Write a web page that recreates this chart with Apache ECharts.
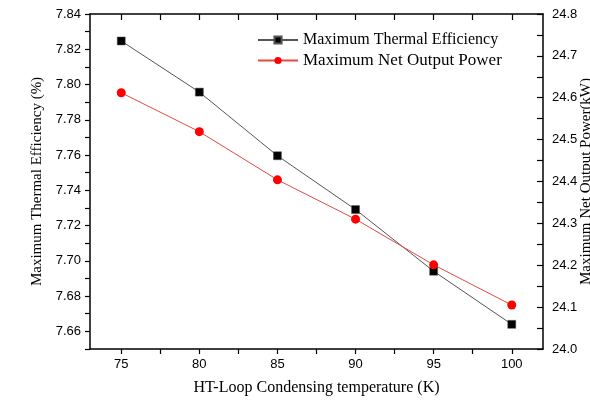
<!DOCTYPE html>
<html>
<head>
<meta charset="utf-8">
<script src="https://cdn.jsdelivr.net/npm/echarts@6/dist/echarts.min.js"></script>
<style>
    html, body { margin: 0; padding: 0; background: #fff; }
    #main { width: 590px; height: 401px; }
</style>
</head>
<body>
<div id="main"></div>
<script>
    // data
    var temps = [75, 80, 85, 90, 95, 100];
    var efficiency = [7.8247, 7.7957, 7.7596, 7.7291, 7.6941, 7.6640];
    var netPower = [24.612, 24.519, 24.404, 24.310, 24.201, 24.105];

    // tick positions / labels
    var xTicks = [75, 77.5, 80, 82.5, 85, 87.5, 90, 92.5, 95, 97.5, 100];
    var xLabels = [75, 80, 85, 90, 95, 100];
    var effTicks = [7.65, 7.66, 7.67, 7.68, 7.69, 7.70, 7.71, 7.72, 7.73, 7.74, 7.75, 7.76, 7.77, 7.78, 7.79, 7.80, 7.81, 7.82, 7.83, 7.84];
    var effLabels = [7.66, 7.68, 7.70, 7.72, 7.74, 7.76, 7.78, 7.80, 7.82, 7.84];
    var powTicks = [24.0, 24.05, 24.1, 24.15, 24.2, 24.25, 24.3, 24.35, 24.4, 24.45, 24.5, 24.55, 24.6, 24.65, 24.7, 24.75, 24.8];
    var powLabels = [24.0, 24.1, 24.2, 24.3, 24.4, 24.5, 24.6, 24.7, 24.8];

    function pairs(xs, ys) {
        var out = [];
        for (var i = 0; i < xs.length; i++) out.push([xs[i], ys[i]]);
        return out;
    }

    var serif = '"Liberation Serif", "Times New Roman", serif';
    var sans = '"Liberation Sans", Arial, sans-serif';
    var axisLine = { show: true, lineStyle: { color: '#000', width: 1.5 } };

    var myChart = echarts.init(document.getElementById('main'));
    var option = {
        animation: false,
        backgroundColor: '#fff',
        grid: {
            left: 90,
            right: 47,
            top: 14,
            bottom: 52,
            containLabel: false,
            outerBoundsMode: 'none'
        },
        legend: {
            orient: 'vertical',
            left: 252,
            top: 27,
            itemWidth: 40,
            itemHeight: 9,
            itemGap: 4,
            data: [
                { name: 'Maximum Thermal Efficiency', textStyle: { fontSize: 16 } },
                { name: 'Maximum Net Output Power', textStyle: { fontSize: 17 } }
            ],
            textStyle: { fontFamily: serif, color: '#000' }
        },
        xAxis: [
            {
                type: 'value',
                position: 'bottom',
                min: 73,
                max: 102,
                name: 'HT-Loop Condensing temperature (K)',
                nameLocation: 'middle',
                nameGap: 31,
                nameTextStyle: { fontFamily: serif, fontSize: 16, color: '#000' },
                axisLine: axisLine,
                axisTick: { show: true, inside: false, length: 5, customValues: xTicks, lineStyle: { color: '#000', width: 1.2 } },
                axisLabel: { customValues: xLabels, fontFamily: sans, fontSize: 13, color: '#000', margin: 9 },
                splitLine: { show: false }
            },
            {
                type: 'value',
                position: 'top',
                min: 73,
                max: 102,
                axisLine: axisLine,
                axisTick: { show: true, inside: true, length: 6, customValues: xTicks, lineStyle: { color: '#000', width: 1.2 } },
                axisLabel: { show: false },
                splitLine: { show: false }
            }
        ],
        yAxis: [
            {
                type: 'value',
                position: 'left',
                min: 7.65,
                max: 7.84,
                name: 'Maximum Thermal Efficiency (%)',
                nameLocation: 'middle',
                nameRotate: 90,
                nameGap: 45,
                nameMoveOverlap: false,
                nameTextStyle: { fontFamily: serif, fontSize: 15, color: '#000' },
                axisLine: axisLine,
                axisTick: { show: true, inside: false, length: 5, customValues: effTicks, lineStyle: { color: '#000', width: 1.2 } },
                axisLabel: {
                    customValues: effLabels,
                    fontFamily: sans, fontSize: 13, color: '#000', margin: 9,
                    formatter: function (v) { return v.toFixed(2); }
                },
                splitLine: { show: false }
            },
            {
                type: 'value',
                position: 'right',
                min: 24.0,
                max: 24.8,
                name: 'Maximum Net Output Power(kW)',
                nameLocation: 'middle',
                nameRotate: 90,
                nameGap: 36,
                nameMoveOverlap: false,
                nameTextStyle: { fontFamily: serif, fontSize: 15, color: '#000' },
                axisLine: axisLine,
                axisTick: { show: true, inside: true, length: 6, customValues: powTicks, lineStyle: { color: '#000', width: 1.2 } },
                axisLabel: {
                    customValues: powLabels,
                    fontFamily: sans, fontSize: 13, color: '#000', margin: 9,
                    formatter: function (v) { return v.toFixed(1); }
                },
                splitLine: { show: false }
            }
        ],
        series: [
            {
                name: 'Maximum Thermal Efficiency',
                type: 'line',
                xAxisIndex: 0,
                yAxisIndex: 0,
                data: pairs(temps, efficiency),
                symbol: 'rect',
                symbolSize: 8,
                itemStyle: { color: '#000', borderColor: '#555', borderWidth: 0.5 },
                lineStyle: { color: '#555', width: 1 }
            },
            {
                name: 'Maximum Net Output Power',
                type: 'line',
                xAxisIndex: 0,
                yAxisIndex: 1,
                data: pairs(temps, netPower),
                symbol: 'circle',
                symbolSize: 9,
                itemStyle: { color: '#ff0000' },
                lineStyle: { color: '#e34a42', width: 1 }
            }
        ]
    };
    myChart.setOption(option);
</script>
</body>
</html>
